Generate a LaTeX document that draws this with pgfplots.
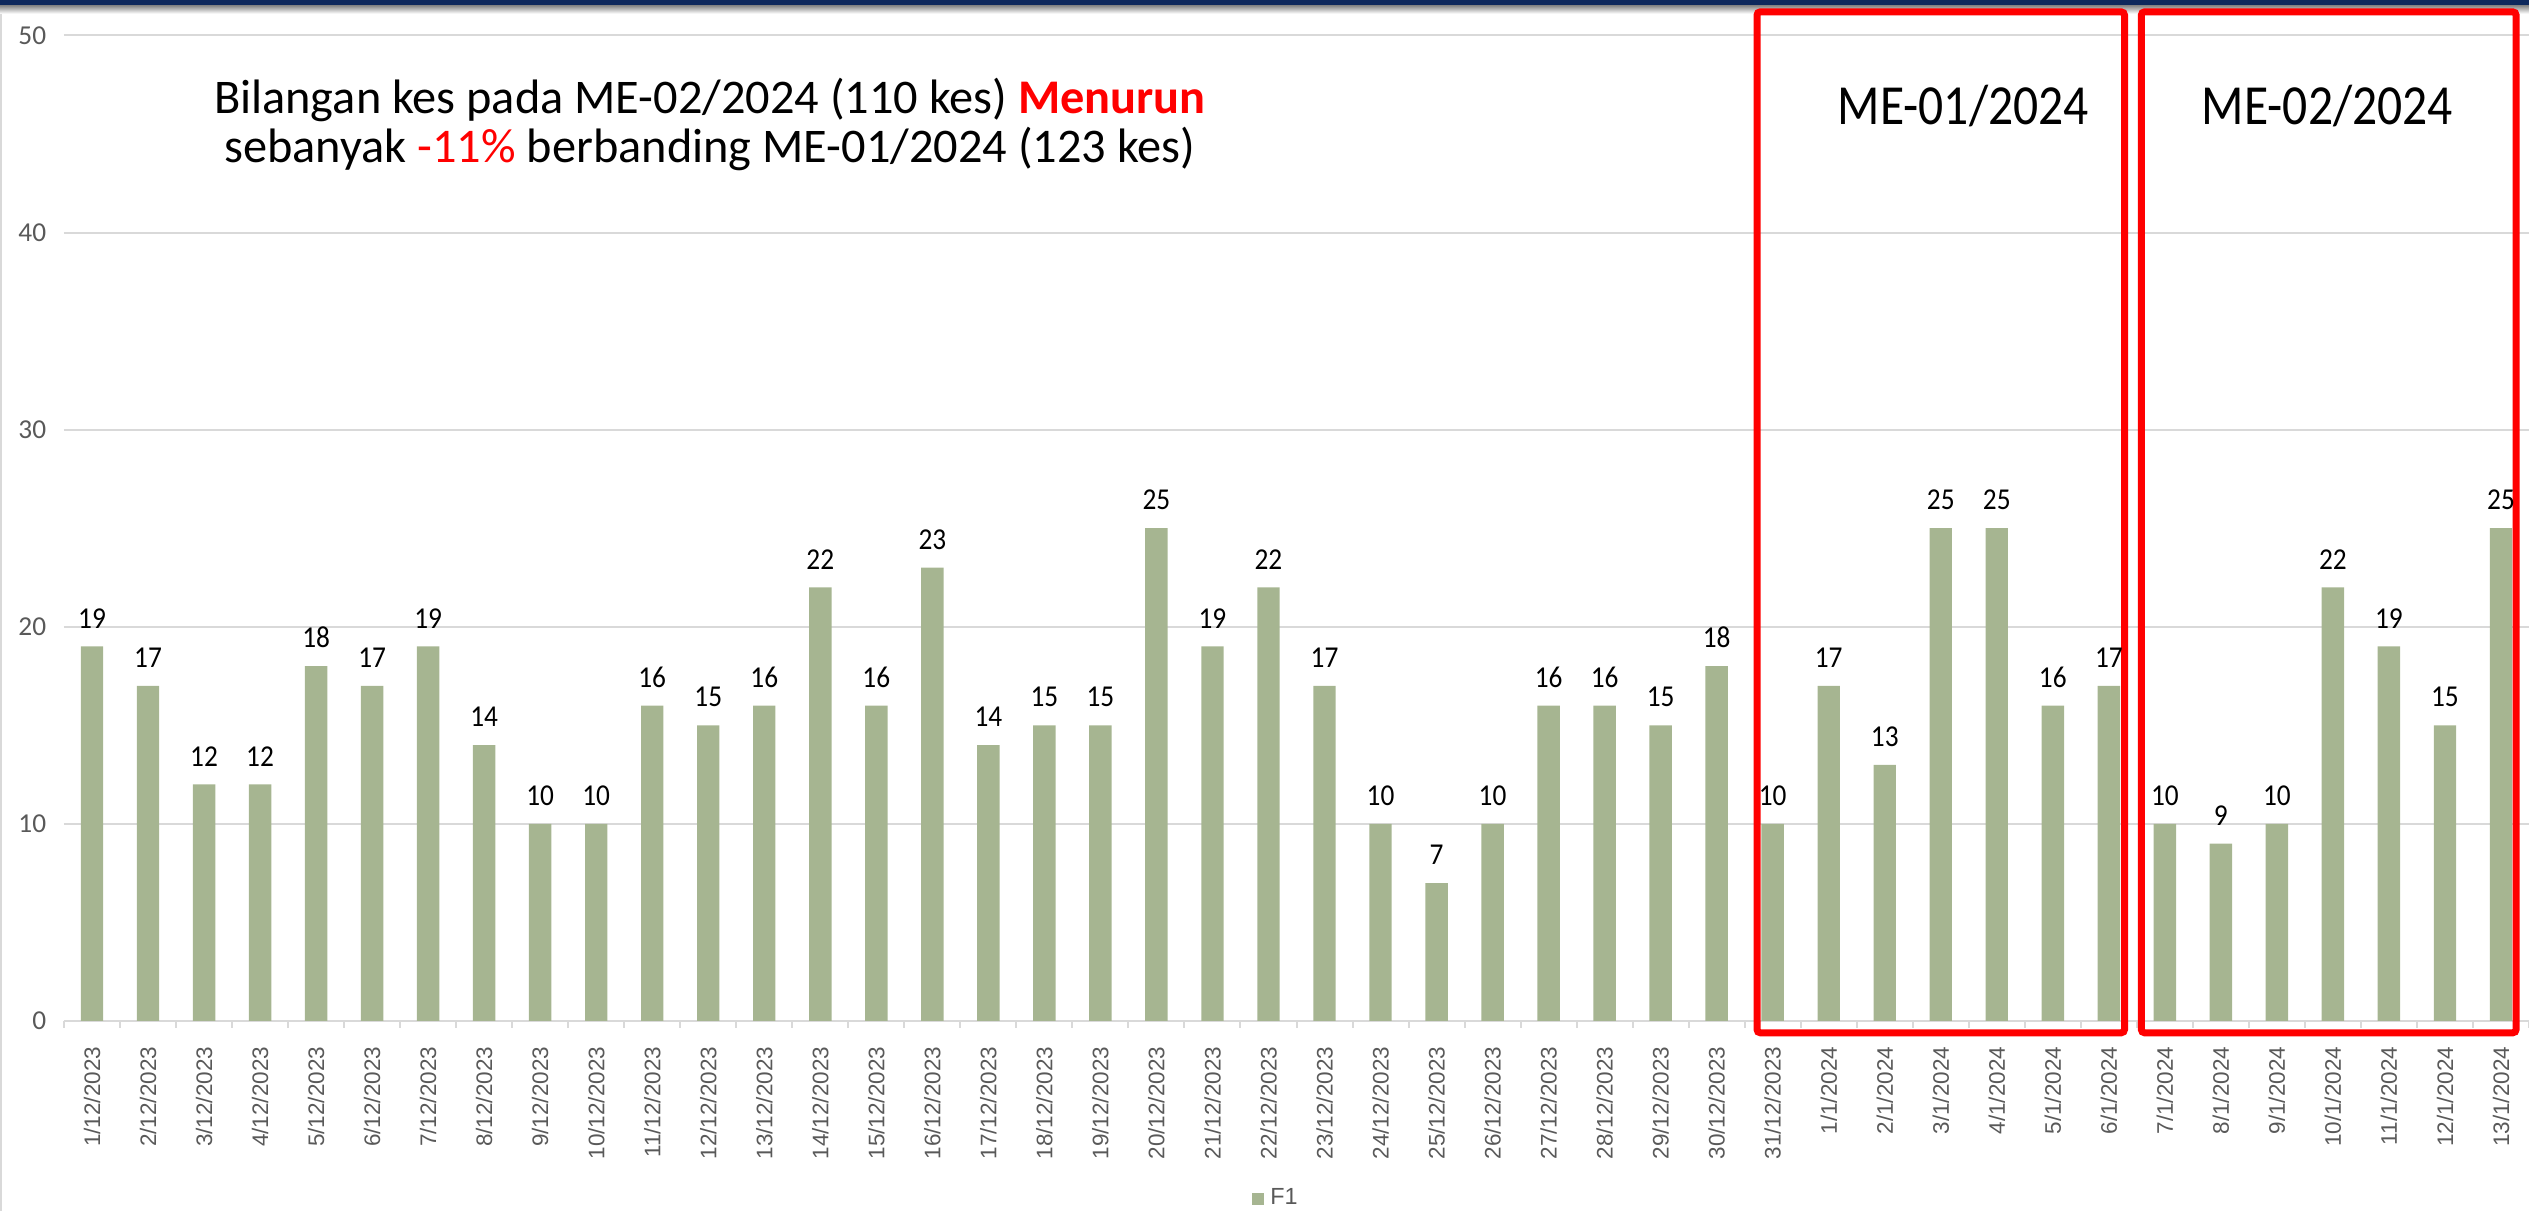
\documentclass[border=0pt]{standalone}
\usepackage{pgfplots}
\pgfplotsset{compat=1.18}
\usepackage{pgfplotstable}
\usepackage{fontspec}
\setmainfont{Carlito}
\newfontfamily\arialf{Liberation Sans}
\newfontfamily\condf[FakeStretch=0.875]{Carlito}
\newfontfamily\numf[FakeStretch=0.9]{Carlito}
\definecolor{bargreen}{RGB}{166,181,145}
\definecolor{gridgray}{RGB}{217,217,217}
\definecolor{labgray}{RGB}{89,89,89}
\definecolor{navy}{RGB}{14,40,92}
\definecolor{boxred}{RGB}{255,0,0}

\pgfplotstableread{
x y
0 19
1 17
2 12
3 12
4 18
5 17
6 19
7 14
8 10
9 10
10 16
11 15
12 16
13 22
14 16
15 23
16 14
17 15
18 15
19 25
20 19
21 22
22 17
23 10
24 7
25 10
26 16
27 16
28 15
29 18
30 10
31 17
32 13
33 25
34 25
35 16
36 17
37 10
38 9
39 10
40 22
41 19
42 15
43 25
}\data

\begin{document}
\begin{tikzpicture}
\path[use as bounding box] (-19.2pt,-57pt) rectangle (739.5pt,306.3pt);
\fill[navy] (-19.2pt,304.5pt) rectangle (739.5pt,306.3pt);
\shade[top color=black!45, bottom color=white] (-19.2pt,302.2pt) rectangle (739.5pt,304.5pt);
\draw[gridgray, line width=0.6pt] (-18.9pt,-57pt) -- (-18.9pt,302.2pt);
\begin{axis}[
  at={(0,0)}, anchor=south west,
  scale only axis, width=739.5pt, height=295.65pt,
  xmin=-0.5, xmax=43.5, ymin=0, ymax=50,
  clip=false,
  /pgf/number format/assume math mode=true,
  ybar, bar width=0.4,
  axis x line*=bottom, axis y line*=left,
  y axis line style={draw=none},
  x axis line style={gridgray, line width=0.6pt},
  ytick={0,10,20,30,40,50},
  ytick style={draw=none},
  ymajorgrids,
  major grid style={gridgray, line width=0.6pt},
  yticklabel style={font=\fontsize{8.2}{9}\selectfont, text=labgray, inner sep=0pt},
  yticklabel shift=0.9pt,
  xtick={0,...,43},
  major x tick style={draw=none},
  minor xtick={-0.5,0.5,...,43.5},
  minor tick length=2.1pt,
  tick align=outside,
  minor x tick style={gridgray, line width=0.6pt},
  xticklabels={1/12/2023,2/12/2023,3/12/2023,4/12/2023,5/12/2023,6/12/2023,7/12/2023,8/12/2023,9/12/2023,10/12/2023,11/12/2023,12/12/2023,13/12/2023,14/12/2023,15/12/2023,16/12/2023,17/12/2023,18/12/2023,19/12/2023,20/12/2023,21/12/2023,22/12/2023,23/12/2023,24/12/2023,25/12/2023,26/12/2023,27/12/2023,28/12/2023,29/12/2023,30/12/2023,31/12/2023,1/1/2024,2/1/2024,3/1/2024,4/1/2024,5/1/2024,6/1/2024,7/1/2024,8/1/2024,9/1/2024,10/1/2024,11/1/2024,12/1/2024,13/1/2024},
  xticklabel style={rotate=90, anchor=east, font=\arialf\fontsize{6.75}{7}\selectfont, text=labgray, inner sep=0pt},
  xticklabel shift=3.3pt,
  nodes near coords,
  nodes near coords style={font=\numf\fontsize{9.1}{9}\selectfont, text=black, inner sep=0pt, anchor=south, yshift=5.3pt},
  legend style={at={(0.4925,-0.181)}, anchor=center, draw=none, fill=none, font=\arialf\fontsize{7}{8}\selectfont, text=labgray},
  legend image code/.code={\fill[bargreen] (0pt,-1.8pt) rectangle (3.6pt,1.8pt);},
]
\addplot[draw=none, fill=bargreen] table[x=x, y=y] {\data};
\addlegendentry{F1}
\draw[boxred, line width=2.1pt, rounded corners=1pt] (axis cs:29.72,-0.6) rectangle (axis cs:36.28,51.2);
\draw[boxred, line width=2.1pt, rounded corners=1pt] (axis cs:36.58,-0.6) rectangle (axis cs:43.27,51.2);
\node[font=\condf\fontsize{17}{20}\selectfont] at (axis cs:33.4,46.4) {ME-01/2024};
\node[font=\condf\fontsize{17}{20}\selectfont] at (axis cs:39.9,46.4) {ME-02/2024};
\node[align=center, font=\fontsize{14.5}{14.6}\selectfont] at (axis cs:11.03,45.5) {Bilangan kes pada ME-02/2024 (110 kes) \textcolor{boxred}{\textbf{Menurun}}\\ sebanyak \textcolor{boxred}{-11\%} berbanding ME-01/2024 (123 kes)};
\end{axis}
\end{tikzpicture}
\end{document}
